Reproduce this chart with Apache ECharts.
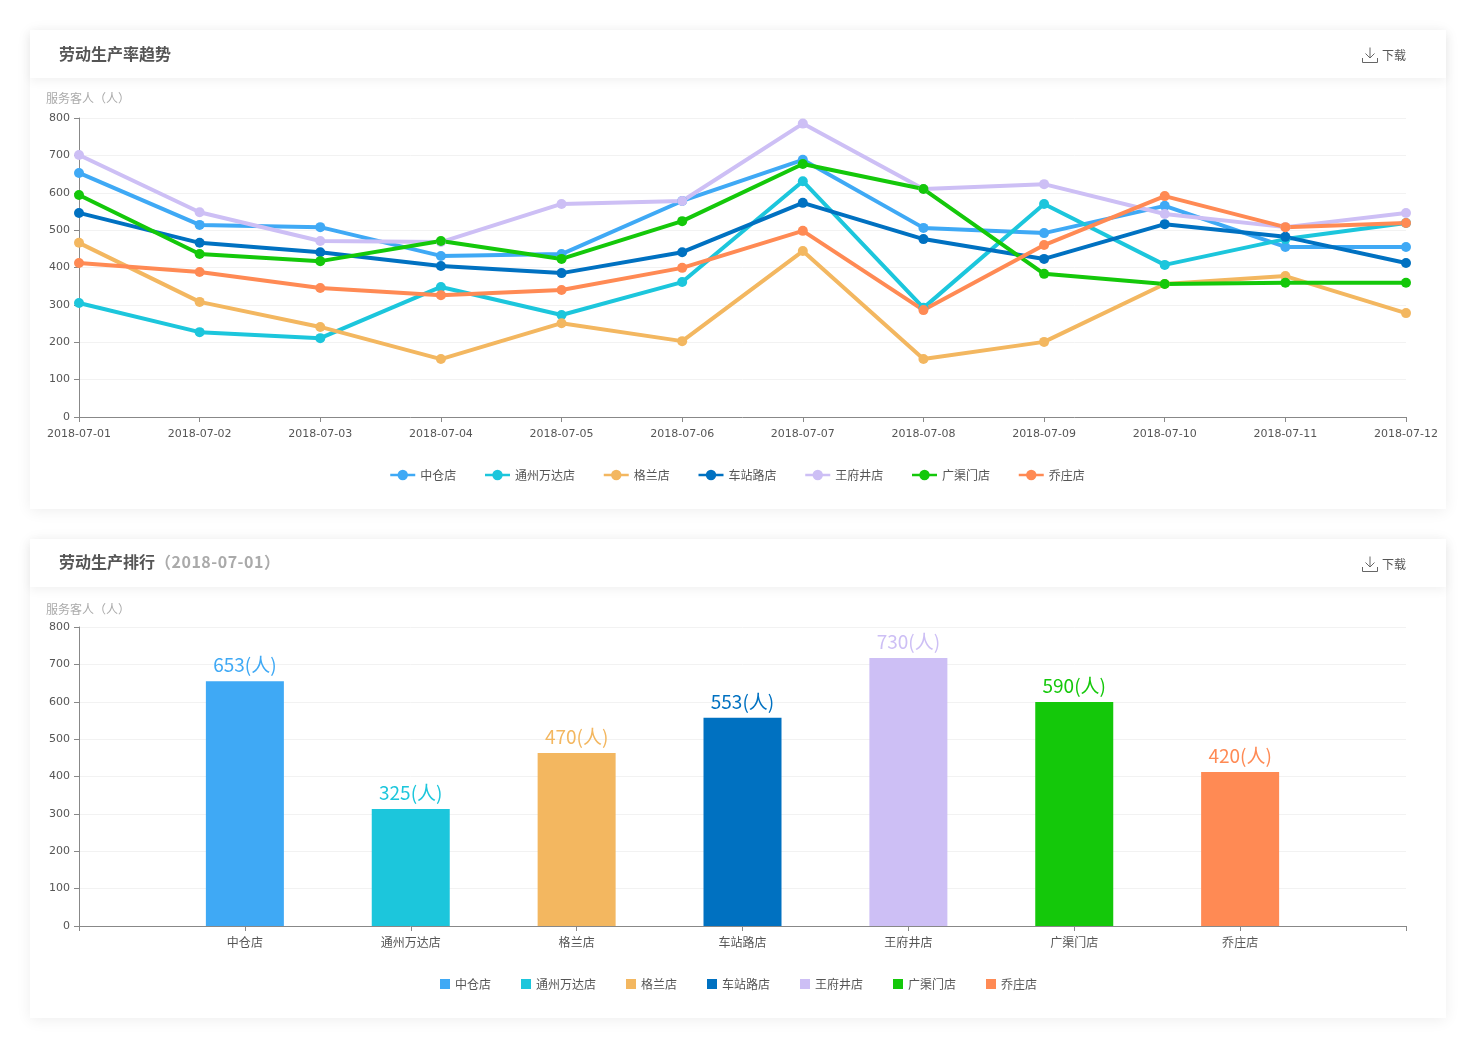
<!DOCTYPE html>
<html>
<head>
<meta charset="utf-8">
<title>劳动生产率</title>
<style>
    html, body { margin: 0; padding: 0; background: #fff; }
    body { width: 1476px; height: 1048px; overflow: hidden; font-family: "Noto Sans CJK SC", sans-serif; }
    .card { position: absolute; left: 30px; width: 1416px; height: 479px; background: #fff; box-shadow: 0 2px 14px rgba(0,0,0,0.07); }
    .head { position: relative; height: 48px; line-height: 47px; padding-left: 29px; font-size: 16px; font-weight: bold; color: #555; box-shadow: 0 3px 10px rgba(0,0,0,0.06); z-index: 2; background: #fff; }
    .head span { color: #aaa; letter-spacing: 0.5px; }
    .down { position: absolute; right: 40px; top: 0; line-height: 49px; font-size: 12px; font-weight: normal; color: #555; }
    .down svg { position: absolute; left: -20px; top: 17px; }
    .chart { width: 1416px; height: 431px; }
</style>
</head>
<body>
<div class="card" style="top:30px">
    <div class="head">劳动生产率趋势<div class="down"><svg width="16" height="16" viewBox="0 0 16 16" fill="none" stroke="#666"><path d="M8 0.5V11M3.5 6.5L8 11L12.5 6.5M0.5 11V15.5H15.5V11"/></svg>下载</div></div>
    <div id="trend" class="chart"></div>
</div>
<div class="card" style="top:539px">
    <div class="head" style="line-height:44px">劳动生产排行<span>（2018-07-01）</span><div class="down"><svg width="16" height="16" viewBox="0 0 16 16" fill="none" stroke="#666"><path d="M8 0.5V11M3.5 6.5L8 11L12.5 6.5M0.5 11V15.5H15.5V11"/></svg>下载</div></div>
    <div id="rank" class="chart"></div>
</div>
<script src="https://cdn.jsdelivr.net/npm/echarts@6/dist/echarts.min.js"></script>
<script type="text/javascript">
    var dates = ['2018-07-01','2018-07-02','2018-07-03','2018-07-04','2018-07-05','2018-07-06','2018-07-07','2018-07-08','2018-07-09','2018-07-10','2018-07-11','2018-07-12'];
    var stores = ['中仓店','通州万达店','格兰店','车站路店','王府井店','广渠门店','乔庄店'];
    var colors = ['#3fa9f5','#1cc6dc','#f3b760','#0071c1','#cdbff5','#14c80a','#ff8a54'];

    // 折线数据，每个门店一组
    var zhongcang = [653,514,508,431,436,578,688,506,492,565,455,455];
    var tongzhou  = [305,227,211,348,273,361,631,292,570,407,476,519];
    var gelan     = [466,308,241,155,251,203,444,155,201,356,377,278];
    var chezhan   = [546,466,441,404,385,441,573,476,423,516,482,412];
    var wangfujing = [701,548,471,468,570,578,785,610,623,543,508,546];
    var guangqu   = [594,436,417,471,423,524,677,610,383,356,359,359];
    var qiaozhuang = [412,388,345,326,340,399,498,286,460,591,508,519];
    var trendData = [zhongcang, tongzhou, gelan, chezhan, wangfujing, guangqu, qiaozhuang];

    // 排行：柱高和标签读数在原图里并不一致，分开保存
    var rankBars = [655,313,463,557,717,599,412];
    var rankLabels = [653,325,470,553,730,590,420];

    var numFont = '"DejaVu Sans", sans-serif';
    var cjkFont = '"Noto Sans CJK SC", sans-serif';

    function yAxis(nameGap) {
        return {
            type: 'value', min: 0, max: 800, interval: 100,
            name: '服务客人（人）', nameGap: nameGap,
            nameTextStyle: { color: '#aaa', fontSize: 12, fontFamily: cjkFont, align: 'left', padding: [0, 0, 0, -33] },
            axisLine: { show: true, lineStyle: { color: '#888' } },
            axisTick: { show: true, length: 5, lineStyle: { color: '#888' } },
            axisLabel: { color: '#555', fontSize: 11, fontFamily: numFont, margin: 9, padding: [4, 0, 0, 0] },
            splitLine: { lineStyle: { color: '#f2f2f2' } }
        };
    }
    var grid = { left: 49, right: 40, top: 40, height: 299 };

    var trendChart = echarts.init(document.getElementById('trend'));
    trendChart.setOption({
        animation: false,
        color: colors,
        grid: grid,
        legend: {
            top: 386, left: 354, itemGap: 27.5, itemWidth: 25, itemHeight: 13,
            lineStyle: { width: 2.5 },
            textStyle: { color: '#555', fontSize: 12, fontFamily: cjkFont },
            data: stores
        },
        xAxis: {
            type: 'category', boundaryGap: false, data: dates,
            axisLine: { lineStyle: { color: '#888' } },
            axisTick: { show: true, length: 5, alignWithLabel: true, lineStyle: { color: '#888' } },
            axisLabel: { color: '#555', fontSize: 11, fontFamily: numFont, margin: 12, interval: 0, hideOverlap: false }
        },
        yAxis: yAxis(14),
        series: stores.map(function (name, i) {
            return {
                name: name, type: 'line', data: trendData[i],
                symbol: 'circle', symbolSize: 10, showSymbol: true,
                lineStyle: { width: 4 }
            };
        })
    });

    // 两端留空类目，让刻度落在 79 和 1406 上
    var rankCats = [''].concat(stores, ['']);
    var rankChart = echarts.init(document.getElementById('rank'));
    rankChart.setOption({
        animation: false,
        color: colors,
        grid: grid,
        legend: {
            top: 386, left: 405, itemGap: 30, itemWidth: 10, itemHeight: 10, icon: 'rect',
            textStyle: { color: '#555', fontSize: 12, fontFamily: cjkFont },
            data: stores
        },
        xAxis: {
            type: 'category', boundaryGap: false, data: rankCats,
            axisLine: { lineStyle: { color: '#888' } },
            axisTick: { show: true, length: 5, alignWithLabel: true, lineStyle: { color: '#888' } },
            axisLabel: { color: '#555', fontSize: 12, fontFamily: cjkFont, margin: 10, interval: 0 }
        },
        yAxis: yAxis(12),
        series: stores.map(function (name, i) {
            var row = rankCats.map(function (c) { return c === name ? rankBars[i] : null; });
            return {
                name: name, type: 'bar', stack: 'rank', barWidth: 78, data: row,
                label: {
                    show: true, position: 'top', distance: 7,
                    color: colors[i], fontSize: 19, fontFamily: cjkFont,
                    formatter: function () { return rankLabels[i] + '(人)'; }
                }
            };
        })
    });
</script>
</body>
</html>
